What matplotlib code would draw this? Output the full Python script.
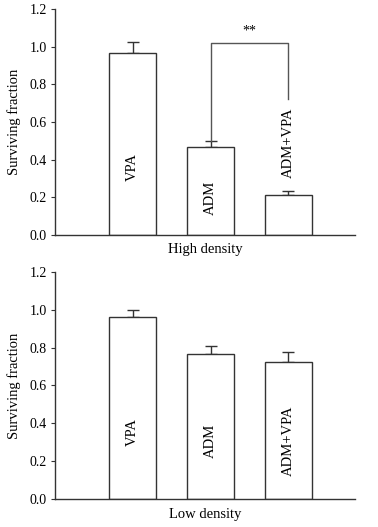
import matplotlib.pyplot as plt

plt.rcParams["font.family"] = ["Liberation Serif", "DejaVu Serif"]

groups = ["VPA", "ADM", "ADM+VPA"]
high_vals = [0.968, 0.466, 0.211]
high_err = [0.055, 0.034, 0.023]
low_vals = [0.959, 0.764, 0.722]
low_err = [0.041, 0.044, 0.053]
high_label_y = [0.36, 0.196, 0.49]
low_label_y = [0.356, 0.31, 0.31]
yticks = [0.0, 0.2, 0.4, 0.6, 0.8, 1.0, 1.2]

fig = plt.figure(figsize=(3.78, 5.27), dpi=100)
ax1 = fig.add_axes([0.1455, 0.554, 0.794, 0.429])
ax2 = fig.add_axes([0.1455, 0.0526, 0.794, 0.432])

x = [0, 1, 2]
edge = "#333333"


def draw(ax, vals, err, label_y, xlabel):
    ax.bar(x, vals, width=0.6, color="white", edgecolor=edge, linewidth=1.0, zorder=2)
    ax.errorbar(x, vals, yerr=[[0, 0, 0], err], fmt="none", ecolor=edge,
                elinewidth=1.0, capsize=4, capthick=1.0, zorder=1)
    for xi, ly, g in zip(x, label_y, groups):
        ax.text(xi, ly, g, rotation=90, ha="center", va="center", fontsize=10.5)
    ax.set_xlim(-1.0, 2.86)
    ax.set_ylim(0, 1.2)
    ax.set_yticks(yticks)
    ax.set_yticklabels([f"{t:.1f}" for t in yticks], fontsize=10)
    ax.set_xticks([])
    ax.set_xlabel(xlabel, fontsize=10.5, labelpad=6)
    ax.set_ylabel("Surviving fraction", fontsize=10.5, labelpad=6)
    ax.spines["top"].set_visible(False)
    ax.spines["right"].set_visible(False)
    for s in ["left", "bottom"]:
        ax.spines[s].set_color(edge)
        ax.spines[s].set_linewidth(1.0)
    ax.tick_params(axis="y", direction="out", length=3, color=edge, pad=3)


draw(ax1, high_vals, high_err, high_label_y, "High density")
draw(ax2, low_vals, low_err, low_label_y, "Low density")

# significance bracket between ADM and ADM+VPA
bracket_top = 1.018
ax1.plot([1, 1, 2, 2], [high_vals[1] + high_err[1], bracket_top, bracket_top, 0.72],
         color="#555555", linewidth=1.0)
ax1.text(1.5, bracket_top + 0.03, "**", ha="center", va="bottom", fontsize=10)

fig.savefig("out.png", dpi=100)
